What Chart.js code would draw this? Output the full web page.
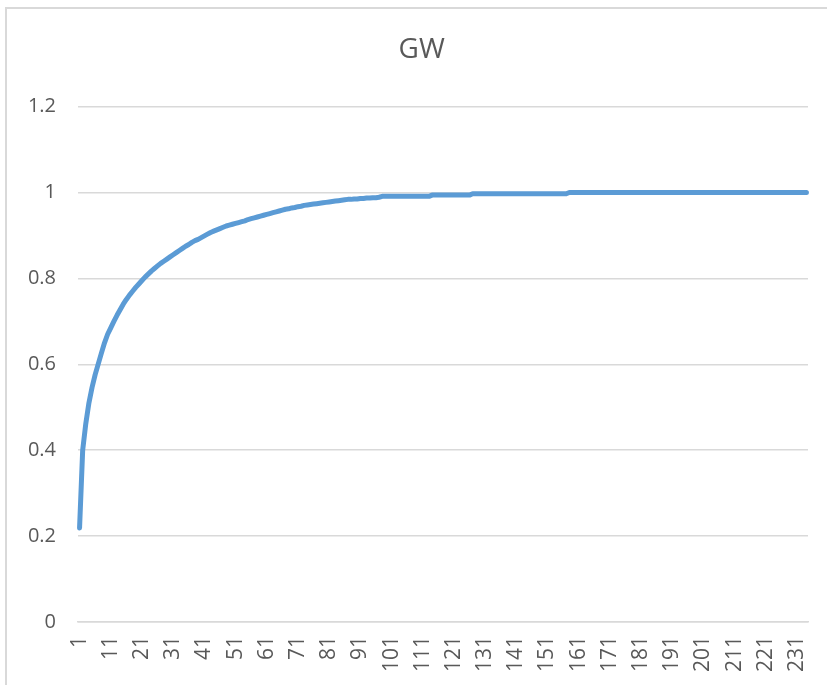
<!DOCTYPE html>
<html>
<head>
<meta charset="utf-8">
<title>GW</title>
<script src="https://cdn.jsdelivr.net/npm/chart.js@4/dist/chart.umd.min.js"></script>
<style>
  html, body { margin: 0; padding: 0; background: #ffffff; }
  #wrap { position: relative; width: 827px; height: 685px; overflow: hidden; }
  #frame {
    position: absolute; left: 5px; top: 7px; right: -10px; bottom: -10px;
    border-left: 2px solid #d9d9d9; border-top: 2px solid #d9d9d9;
    pointer-events: none;
  }
  #c { position: absolute; left: 0; top: 0; }
</style>
</head>
<body>
<div id="wrap">
  <canvas id="c" width="827" height="685"></canvas>
  <div id="frame"></div>
</div>
<script>
// Cumulative GW share by rank
const gwValues = [
  0.219, 0.400, 0.462, 0.510, 0.546, 0.576, 0.601, 0.626, 0.650, 0.670,
  0.685, 0.700, 0.714, 0.727, 0.740, 0.751, 0.761, 0.770, 0.779, 0.787,
  0.795, 0.803, 0.810, 0.817, 0.823, 0.829, 0.835, 0.840, 0.845, 0.850,
  0.855, 0.860, 0.865, 0.870, 0.875, 0.879, 0.884, 0.888, 0.891, 0.895,
  0.899, 0.903, 0.907, 0.910, 0.913, 0.916, 0.919, 0.922, 0.924, 0.926,
  0.928, 0.930, 0.932, 0.934, 0.937, 0.939, 0.941, 0.943, 0.945, 0.947,
  0.949, 0.951, 0.953, 0.955, 0.957, 0.959, 0.961, 0.962, 0.964, 0.965,
  0.967, 0.968, 0.970, 0.971, 0.972, 0.973, 0.974, 0.975, 0.976, 0.977,
  0.978, 0.979, 0.980, 0.981, 0.982, 0.983, 0.984, 0.984, 0.985, 0.985,
  0.986, 0.986, 0.987, 0.987, 0.988, 0.988, 0.989, 0.991, 0.991, 0.991,
  0.991, 0.991, 0.991, 0.991, 0.991, 0.991, 0.991, 0.991, 0.991, 0.991,
  0.991, 0.991, 0.991, 0.994, 0.994, 0.994, 0.994, 0.994, 0.994, 0.994,
  0.994, 0.994, 0.994, 0.994, 0.994, 0.994, 0.997, 0.997, 0.997, 0.997,
  0.997, 0.997, 0.997, 0.997, 0.997, 0.997, 0.997, 0.997, 0.997, 0.997,
  0.997, 0.997, 0.997, 0.997, 0.997, 0.997, 0.997, 0.997, 0.997, 0.997,
  0.997, 0.997, 0.997, 0.997, 0.997, 0.997, 0.997, 1, 1, 1,
  1, 1, 1, 1, 1, 1, 1, 1, 1, 1,
  1, 1, 1, 1, 1, 1, 1, 1, 1, 1,
  1, 1, 1, 1, 1, 1, 1, 1, 1, 1,
  1, 1, 1, 1, 1, 1, 1, 1, 1, 1,
  1, 1, 1, 1, 1, 1, 1, 1, 1, 1,
  1, 1, 1, 1, 1, 1, 1, 1, 1, 1,
  1, 1, 1, 1, 1, 1, 1, 1, 1, 1,
  1, 1, 1, 1
];

// Rank categories 1..n
const rankLabels = gwValues.map((_, i) => String(i + 1));

// Every tenth rank is labelled on the x axis
const xTickStep = 10;

// Value axis ticks
const yTicks = { min: 0, max: 1.2, step: 0.2 };

const chartTitle = 'GW';

const textColor = '#595959';
const gridColor = '#d9d9d9';
const lineColor = '#5b9bd5';
const fontFamily = '"Open Sans", "Liberation Sans", sans-serif';

// The title is centred over the plot, not over the value labels' gutter
const titleInset = {
  id: 'titleInset',
  afterLayout(chart) {
    if (chart.titleBlock) {
      chart.titleBlock.left = chart.scales.y.left + chart.scales.y.width / 2.2;
    }
  }
};

new Chart(document.getElementById('c'), {
  type: 'line',
  data: {
    labels: rankLabels,
    datasets: [{
      label: chartTitle,
      data: gwValues,
      borderColor: lineColor,
      borderWidth: 5,
      pointRadius: 0,
      pointHoverRadius: 0,
      tension: 0,
      fill: false,
      borderCapStyle: 'round',
      borderJoinStyle: 'round'
    }]
  },
  plugins: [titleInset],
  options: {
    responsive: false,
    animation: false,
    events: [],
    layout: { padding: { left: 0, right: 19, top: 0, bottom: 0 } },
    plugins: {
      legend: { display: false },
      tooltip: { enabled: false },
      title: {
        display: true,
        text: chartTitle,
        color: textColor,
        font: { family: fontFamily, size: 28, weight: 'normal', lineHeight: 1.2 },
        padding: { top: 33, bottom: 40 }
      }
    },
    scales: {
      x: {
        type: 'category',
        offset: true,
        grid: { display: false, drawTicks: false },
        border: { display: true, color: gridColor, width: 1.5 },
        afterFit: function (scale) {
          scale.height = 63;
          scale.paddingLeft = 0;
          scale.paddingRight = 0;
        },
        ticks: {
          autoSkip: false,
          minRotation: 90,
          maxRotation: 90,
          padding: 14,
          color: textColor,
          font: { family: fontFamily, size: 21 },
          callback: function (value, index) {
            return index % xTickStep === 0 ? rankLabels[index] : '';
          }
        }
      },
      y: {
        min: yTicks.min,
        max: yTicks.max,
        grid: { color: gridColor, lineWidth: 1.5, drawTicks: false },
        border: { display: false },
        afterFit: function (scale) {
          scale.width = 78;
          scale.paddingTop = 0;
          scale.paddingBottom = 0;
        },
        ticks: {
          stepSize: yTicks.step,
          padding: 22,
          color: textColor,
          font: { family: fontFamily, size: 20 },
          callback: function (value) {
            return String(Number(value.toFixed(1)));
          }
        }
      }
    }
  }
});
</script>
</body>
</html>
